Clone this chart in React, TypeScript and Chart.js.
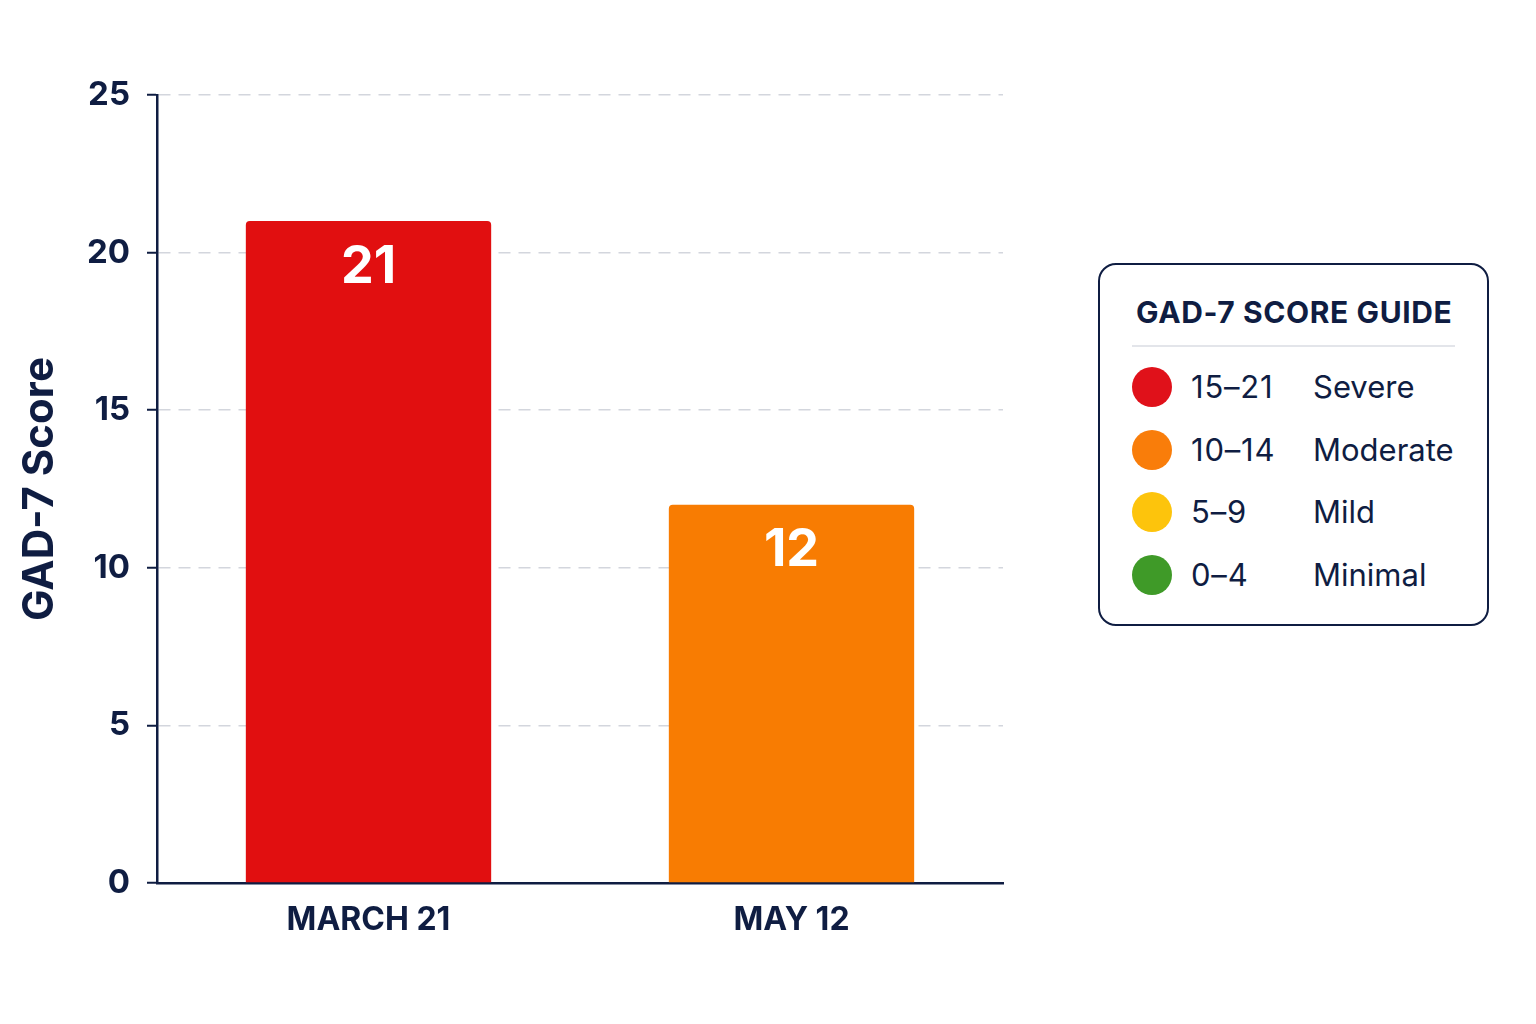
import { useEffect, useRef } from "react";
import { Chart, registerables } from "chart.js";

Chart.register(...registerables);

const categories = ["MARCH 21", "MAY 12"];
const scores = [21, 12];
const barColors = ["#e10f10", "#f87c02"];
const yMin = 0;
const yMax = 25;
const yStep = 5;

const guideRanges = ["15–21", "10–14", "5–9", "0–4"];
const guideLabels = ["Severe", "Moderate", "Mild", "Minimal"];
const guideColors = ["#e0111a", "#f97d0a", "#fdc40c", "#3f9a28"];

const NAVY = "#0f1d42";
const FONT = "Inter, 'Noto Sans', sans-serif";

const barValueLabels = {
  id: "barValueLabels",
  afterDatasetsDraw(chart: Chart) {
    const { ctx } = chart;
    const meta = chart.getDatasetMeta(0);
    ctx.save();
    ctx.fillStyle = "#ffffff";
    ctx.font = `bold 52px ${FONT}`;
    ctx.textAlign = "center";
    ctx.textBaseline = "middle";
    meta.data.forEach((bar: any, i: number) => {
      ctx.fillText(String(scores[i]), bar.x, bar.y + 46);
    });
    ctx.restore();
  },
};

export default function App() {
  const canvasRef = useRef<HTMLCanvasElement>(null);
  const chartRef = useRef<Chart | null>(null);

  useEffect(() => {
    if (!canvasRef.current) return;
    const ctx = canvasRef.current.getContext("2d");
    if (!ctx) return;

    chartRef.current?.destroy();
    chartRef.current = new Chart(ctx, {
      type: "bar",
      data: {
        labels: categories,
        datasets: [
          {
            label: "GAD-7 Score",
            data: scores,
            backgroundColor: barColors,
            borderRadius: { topLeft: 4, topRight: 4, bottomLeft: 0, bottomRight: 0 },
            borderSkipped: "bottom",
            barPercentage: 0.58,
            categoryPercentage: 1,
          },
        ],
      },
      options: {
        responsive: false,
        animation: false,
        layout: { padding: { top: 95, right: 533, bottom: 0, left: 0 } },
        plugins: { legend: { display: false }, tooltip: { enabled: false } },
        scales: {
          y: {
            min: yMin,
            max: yMax,
            afterFit: (scale: any) => {
              scale.width = 157;
            },
            ticks: {
              stepSize: yStep,
              padding: 17,
              color: NAVY,
              font: { family: FONT, size: 33, weight: "bold" },
            },
            grid: {
              color: "#d3d6dd",
              lineWidth: 1.5,
              tickLength: 10,
              tickColor: NAVY,
              tickWidth: 2,
            },
            border: { display: true, color: NAVY, width: 2.5, dash: [12, 8] },
            title: {
              display: true,
              text: "GAD-7 Score",
              color: NAVY,
              font: { family: FONT, size: 42, weight: "bold" },
              padding: { top: 15, bottom: 0 },
            },
          },
          x: {
            afterFit: (scale: any) => {
              scale.height = 141;
            },
            ticks: {
              padding: 18,
              color: NAVY,
              font: { family: FONT, size: 32, weight: "bold" },
              maxRotation: 0,
            },
            grid: { display: false, drawTicks: false },
            border: { display: true, color: NAVY, width: 2.5 },
          },
        },
      },
      plugins: [barValueLabels],
    });

    return () => chartRef.current?.destroy();
  }, []);

  return (
    <div
      style={{
        position: "absolute",
        left: 0,
        top: 0,
        width: 1536,
        height: 1024,
        background: "#ffffff",
        fontFamily: FONT,
        color: NAVY,
      }}
    >
      <canvas ref={canvasRef} width={1536} height={1024} style={{ width: 1536, height: 1024, display: "block" }} />
      <div
        style={{
          position: "absolute",
          left: 1098,
          top: 263,
          width: 391,
          height: 363,
          boxSizing: "border-box",
          border: `2.5px solid ${NAVY}`,
          borderRadius: 18,
          background: "#ffffff",
        }}
      >
        <div
          style={{
            position: "absolute",
            left: 36,
            top: 28,
            fontSize: 30,
            fontWeight: 700,
            letterSpacing: 0.6,
            lineHeight: "38px",
            whiteSpace: "nowrap",
          }}
        >
          GAD-7 SCORE GUIDE
        </div>
        <div
          style={{
            position: "absolute",
            left: 32,
            top: 80,
            width: 323,
            height: 2,
            background: "#e3e5ea",
          }}
        />
        {guideRanges.map((range, i) => (
          <div key={range} style={{ position: "absolute", left: 0, top: 122 + i * 62.5, width: "100%", height: 0 }}>
            <span
              style={{
                position: "absolute",
                left: 32,
                top: -20,
                width: 40,
                height: 40,
                borderRadius: "50%",
                background: guideColors[i],
              }}
            />
            <span
              style={{
                position: "absolute",
                left: 91,
                top: -20,
                fontSize: 31,
                letterSpacing: 0.8,
                lineHeight: "40px",
                whiteSpace: "nowrap",
              }}
            >
              {range}
            </span>
            <span
              style={{
                position: "absolute",
                left: 213,
                top: -20,
                fontSize: 31,
                lineHeight: "40px",
                whiteSpace: "nowrap",
              }}
            >
              {guideLabels[i]}
            </span>
          </div>
        ))}
      </div>
    </div>
  );
}
